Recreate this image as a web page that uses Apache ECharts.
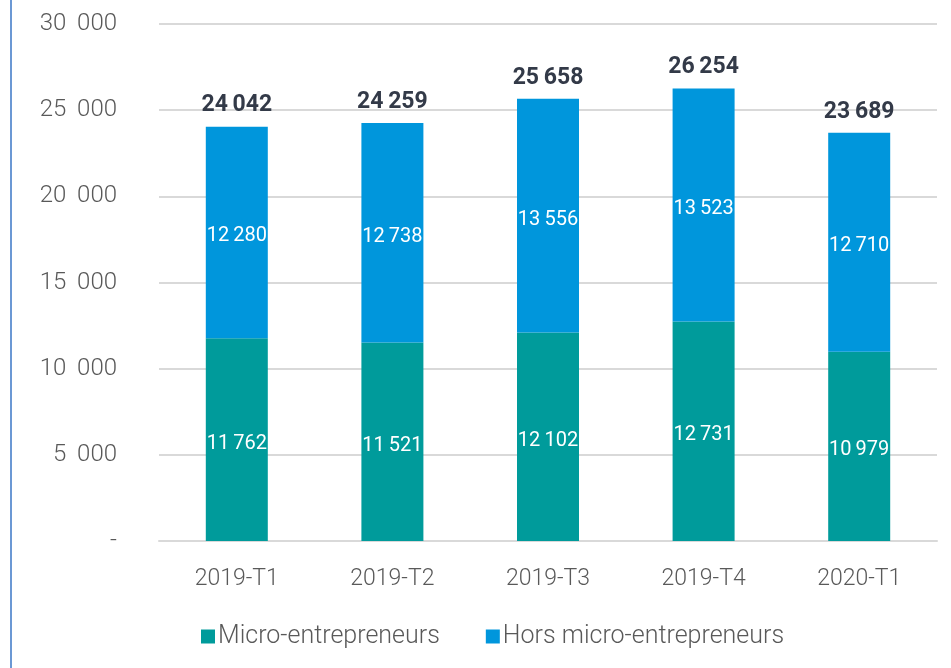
<!DOCTYPE html>
<html>
<head>
<meta charset="utf-8">
<script src="https://cdn.jsdelivr.net/npm/echarts@6/dist/echarts.min.js"></script>
<style>
  html, body { margin: 0; padding: 0; background: #fff; }
  #chart { width: 951px; height: 668px; }
</style>
</head>
<body>
<div id="chart"></div>
<script>
// trimestres
const categories = ['2019-T1', '2019-T2', '2019-T3', '2019-T4', '2020-T1'];
const micro = [11762, 11521, 12102, 12731, 10979];
const horsMicro = [12280, 12738, 13556, 13523, 12710];
const seriesNames = ['Micro-entrepreneurs', 'Hors micro-entrepreneurs'];

const totals = micro.map((v, i) => v + horsMicro[i]);

const fmt = (v, sep) => {
    if (v === 0) return '-';
    return String(v).replace(/\B(?=(\d{3})+(?!\d))/g, sep || ' ');
};

const chart = echarts.init(document.getElementById('chart'));

const innerLabel = {
    show: true,
    position: 'inside',
    offset: [0, 4],
    color: '#fff',
    fontFamily: 'Roboto',
    fontSize: 20,
    formatter: (p) => fmt(p.value, '\u2009')
};

chart.setOption({
    animation: false,
    graphic: [
        // trait bleu à gauche
        { type: 'rect', left: 10, top: 0, shape: { width: 2, height: 668 }, style: { fill: '#6b98d4' } }
    ],
    grid: { left: 159, right: 14, top: 24, bottom: 127 },
    legend: {
        left: 196,
        top: 619,
        itemWidth: 14,
        itemHeight: 14,
        itemGap: 46,
        icon: 'rect',
        textStyle: { color: '#595959', fontSize: 25, fontFamily: 'Roboto', fontWeight: 300, padding: [0, 0, 0, -2] },
        data: seriesNames
    },
    xAxis: {
        type: 'category',
        data: categories,
        axisTick: { show: false },
        axisLine: { lineStyle: { color: '#d9d9d9', width: 2 } },
        axisLabel: { color: '#595959', fontSize: 23, fontFamily: 'Roboto', fontWeight: 300, margin: 27 }
    },
    yAxis: {
        type: 'value',
        min: 0,
        max: 30000,
        interval: 5000,
        axisLine: { show: false },
        axisTick: { show: false },
        splitLine: { lineStyle: { color: '#d9d9d9', width: 2 } },
        axisLabel: { color: '#595959', fontSize: 24, fontFamily: 'Roboto', fontWeight: 300, margin: 42, formatter: (v) => fmt(v, ' \u2009') }
    },
    series: [
        {
            name: seriesNames[0],
            type: 'bar',
            stack: 'total',
            barWidth: 62,
            data: micro,
            itemStyle: { color: '#009b9b' },
            label: innerLabel
        },
        {
            name: seriesNames[1],
            type: 'bar',
            stack: 'total',
            barWidth: 62,
            data: horsMicro,
            itemStyle: { color: '#0096dc' },
            label: innerLabel
        },
        {
            name: 'Total',
            type: 'line',
            data: totals,
            symbol: 'circle',
            symbolSize: 1,
            silent: true,
            itemStyle: { color: 'rgba(0,0,0,0)' },
            lineStyle: { width: 0, opacity: 0 },
            label: {
                show: true,
                position: 'top',
                distance: 9,
                color: '#333a48',
                fontWeight: 'bold',
                fontFamily: 'Roboto',
                fontSize: 23,
                formatter: (p) => fmt(p.value, '\u2009')
            }
        }
    ]
});
</script>
</body>
</html>
